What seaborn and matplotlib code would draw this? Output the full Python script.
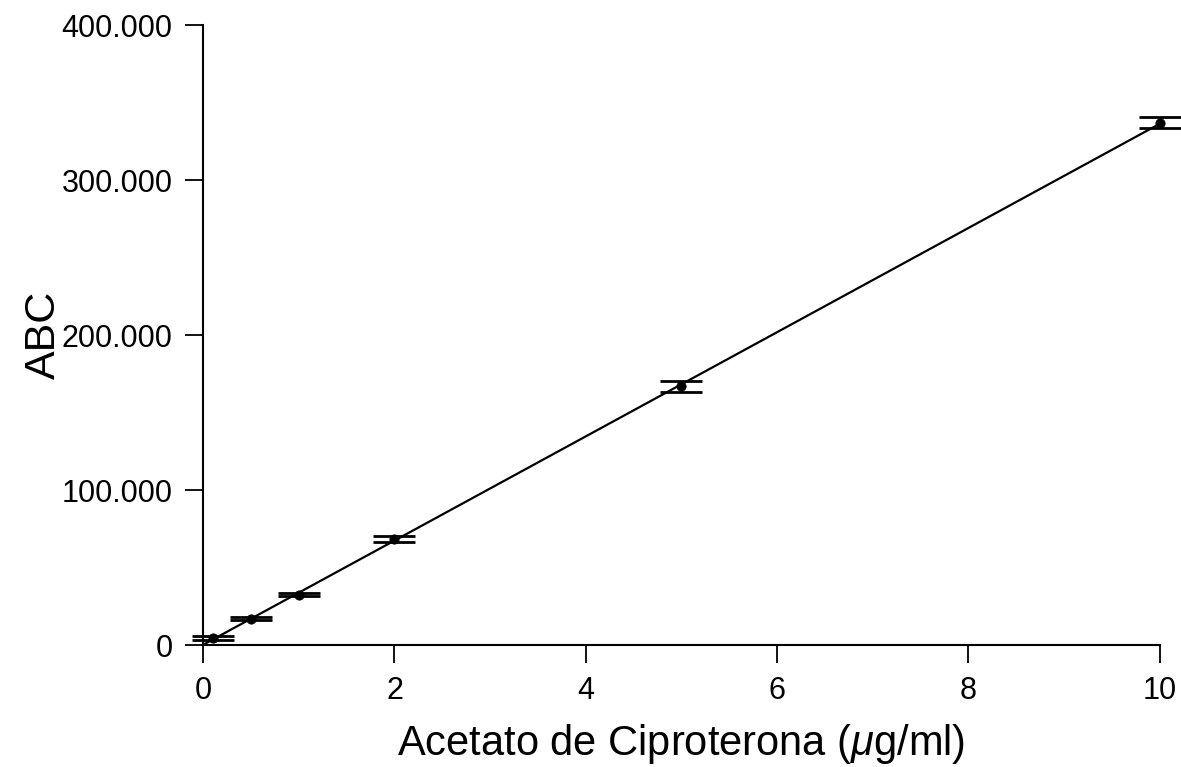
import numpy as np
import pandas as pd
import matplotlib
matplotlib.use("Agg")
import matplotlib.pyplot as plt
import seaborn as sns

# Data
conc = [0.1, 0.5, 1.0, 2.0, 5.0, 10.0]
abc = [4500, 17000, 32500, 68500, 167000, 337000]
abc_err = [1200, 1000, 1000, 2000, 3500, 3500]
xticks = [0, 2, 4, 6, 8, 10]
yticks = [0, 100000, 200000, 300000, 400000]
ytick_labels = ["0", "100.000", "200.000", "300.000", "400.000"]

sns.set_style("ticks")
plt.rcParams['font.family'] = ['Liberation Sans', 'DejaVu Sans']
plt.rcParams['mathtext.fontset'] = 'custom'
plt.rcParams['mathtext.it'] = 'Liberation Sans:italic'
plt.rcParams['mathtext.rm'] = 'Liberation Sans'
plt.rcParams['text.color'] = 'black'
plt.rcParams['axes.labelcolor'] = 'black'

df = pd.DataFrame({"conc": conc, "abc": abc, "err": abc_err})

fig = plt.figure(figsize=(11.81, 7.67), dpi=100)
ax = fig.add_axes([0.172, 0.159, 0.810, 0.808])

# regression line over 0..10
b, a = np.polyfit(df["conc"], df["abc"], 1)
fit = pd.DataFrame({"x": [0.0, 10.0]})
fit["y"] = a + b * fit["x"]
sns.lineplot(data=fit, x="x", y="y", ax=ax, color="black", lw=1.6)

ax.errorbar(df["conc"], df["abc"], yerr=df["err"], fmt="none", ecolor="black",
            elinewidth=2.0, capsize=15, capthick=2.0, clip_on=False, zorder=3)
sns.scatterplot(data=df, x="conc", y="abc", ax=ax, color="black", s=45,
                edgecolor="black", zorder=4, clip_on=False)

ax.set_xlim(0, 10)
ax.set_ylim(0, 400000)
ax.set_xticks(xticks)
ax.set_xticklabels([str(t) for t in xticks])
ax.set_yticks(yticks)
ax.set_yticklabels(ytick_labels)
ax.tick_params(direction="out", length=13, width=1.3, labelsize=22, pad=9, colors="black")
for s in ["left", "bottom"]:
    ax.spines[s].set_linewidth(1.5)
    ax.spines[s].set_color("black")
sns.despine(ax=ax)

ax.set_xlabel(r"Acetato de Ciproterona ($\mu$g/ml)", fontsize=30, labelpad=12, color="black")
ax.set_ylabel("ABC", fontsize=31, labelpad=-2, color="black")

fig.savefig("out.png", dpi=100)
